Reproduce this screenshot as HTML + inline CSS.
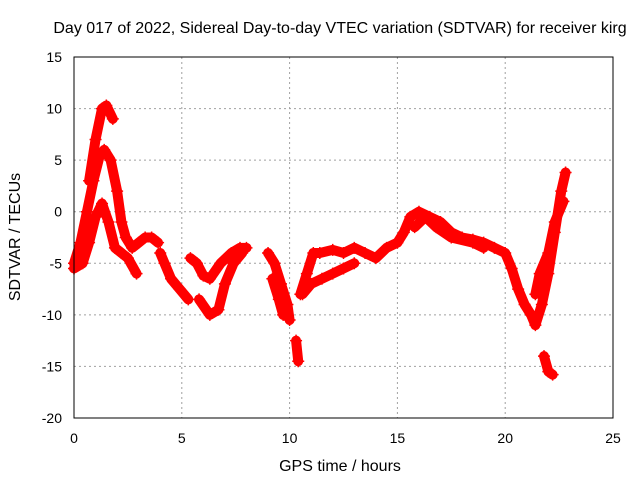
<!DOCTYPE html>
<html><head><meta charset="utf-8"><style>
body{margin:0;background:#fff}
svg text{font-family:"Liberation Sans",sans-serif;font-size:14px;fill:#000}
svg text.big{font-size:16px}
</style></head><body>
<svg id="c" width="640" height="480">
<text class="big" x="340" y="33" text-anchor="middle">Day 017 of 2022, Sidereal Day-to-day VTEC variation (SDTVAR) for receiver kirg</text>
<text class="big" x="340" y="471" text-anchor="middle">GPS time / hours</text>
<text class="big" transform="translate(20,237) rotate(-90)" text-anchor="middle">SDTVAR / TECUs</text>
<g id="grid"></g><g id="ticks"></g><g id="marks"></g>
<rect x="74" y="57" width="539" height="361" fill="none" stroke="#000"/>
</svg>
<script>
const xTicks=[0,5,10,15,20,25];
const yTicks=[15,10,5,0,-5,-10,-15,-20];
const traceUpper=[[0,-5],[0.3,-3],[0.6,0],[0.9,3],[1.2,5.5],[1.4,6],[1.7,5],[2.0,2],[2.2,-1],[2.4,-2.5],[2.7,-3.5],[3,-3],[3.3,-2.5],[3.6,-2.5],[3.9,-3]];
const tracePeak=[[0.7,3],[1.0,7],[1.3,10],[1.5,10.3],[1.8,9]];
const traceLower=[[0,-5.5],[0.4,-5],[0.7,-3],[1.0,-0.5],[1.3,0.8],[1.6,-1],[1.9,-3.5],[2.2,-4],[2.5,-4.5],[2.9,-6]];
const traceDip1=[[4,-4],[4.2,-5],[4.5,-6.5],[4.9,-7.5],[5.3,-8.5]];
const traceArc=[[5.4,-4.5],[5.7,-5],[6,-6.2],[6.3,-6.5],[6.8,-5],[7.3,-4],[7.7,-3.5],[8,-3.5]];
const traceArcLow=[[5.8,-8.5],[6.3,-10],[6.7,-9.5],[7,-7],[7.4,-5],[7.8,-4]];
const traceDrop=[[9,-4],[9.3,-5],[9.6,-7],[9.9,-9],[10.0,-10.5]];
const traceDrop2=[[9.2,-6.5],[9.5,-8.5],[9.7,-10]];
const traceSpike=[[10.3,-12.5],[10.4,-14.5]];
const traceMain=[[10.5,-8],[10.8,-6],[11.1,-4],[11.4,-4],[12,-3.7],[12.5,-4],[13,-3.5],[13.5,-4],[14,-4.5],[14.5,-3.5],[15,-3],[15.3,-2],[15.6,-0.5],[16,0],[16.5,-0.5],[17,-1],[17.5,-2],[18,-2.5],[18.5,-2.7],[19,-3],[19.5,-3.5],[20,-4],[20.3,-5.5],[20.6,-7.5],[20.9,-9],[21.2,-10],[21.4,-11],[21.7,-9],[22,-6],[22.3,-2],[22.6,2],[22.8,3.8]];
const traceMainLow=[[10.6,-8],[11,-7],[11.5,-6.5],[12,-6],[12.5,-5.5],[13,-5]];
const traceMid=[[15.8,-1.5],[16.3,-0.5],[16.8,-1.5],[17.5,-2.5],[18.5,-3],[19,-3.5]];
const traceTail=[[21.8,-14],[22,-15.5],[22.2,-15.8]];
const traceRise=[[21.4,-8],[21.6,-6],[22,-4],[22.3,-1],[22.7,1]];
const traces=[traceUpper,tracePeak,traceLower,traceDip1,traceArc,traceArcLow,traceDrop,traceDrop2,traceSpike,traceMain,traceMainLow,traceMid,traceTail,traceRise];
const NS='http://www.w3.org/2000/svg';
const X=v=>74+v*539/25, Y=v=>57+(15-v)*361/35;
const grid=document.getElementById('grid'),ticks=document.getElementById('ticks'),marks=document.getElementById('marks');
function mk(t,a,p){const e=document.createElementNS(NS,t);for(const k in a)e.setAttribute(k,a[k]);p.appendChild(e);return e;}
xTicks.forEach(v=>{
 if(v>0&&v<25){const g=mk('line',{x1:X(v),x2:X(v),y1:57,y2:418,stroke:'#a0a0a0','stroke-dasharray':'2,3'},grid);
 
 }
 const t=mk('text',{x:X(v),y:443,'text-anchor':'middle'},ticks);t.textContent=v;
 
 
});
yTicks.forEach(v=>{
 if(v<15&&v>-20){const g=mk('line',{x1:74,x2:613,y1:Y(v),y2:Y(v),stroke:'#a0a0a0','stroke-dasharray':'2,3'},grid);
 
 }
 const t=mk('text',{x:62,y:Y(v)+5,'text-anchor':'end'},ticks);t.textContent=v;
 
 
});
traces.forEach(tr=>{
 const p=mk('polyline',{points:tr.map(d=>X(d[0])+','+Y(d[1])).join(' '),fill:'none',stroke:'#ff0000','stroke-width':10,'stroke-linejoin':'round','stroke-linecap':'round'},marks);
 
 
 tr.forEach(d=>{
  const m=mk('path',{d:`M${X(d[0])-6},${Y(d[1])}h12M${X(d[0])},${Y(d[1])-6}v12`,stroke:'#ff0000','stroke-width':1.5},marks);
  
  
 });
});
</script>
</body></html>
